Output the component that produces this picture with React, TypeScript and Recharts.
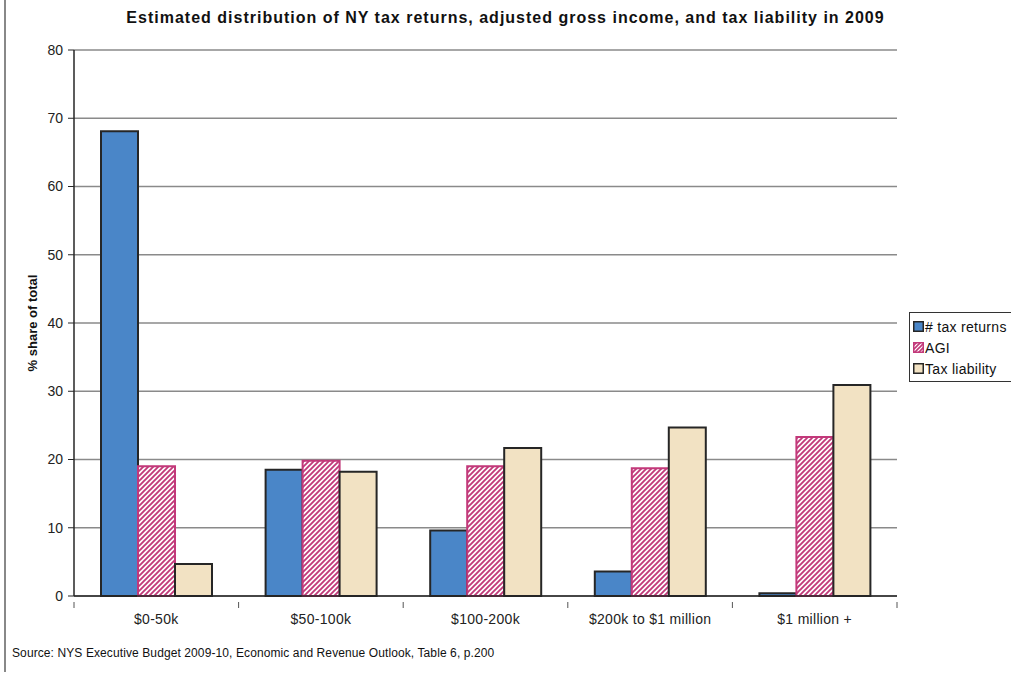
import React from "react";
import {
  BarChart,
  Bar,
  XAxis,
  YAxis,
  CartesianGrid,
} from "recharts";

// income brackets and each group's % share of the state total
const brackets = ["$0-50k", "$50-100k", "$100-200k", "$200k to $1 million", "$1 million +"];
const taxReturns = [68.1, 18.5, 9.6, 3.6, 0.4];
const agi = [19.0, 19.8, 19.0, 18.7, 23.3];
const taxLiability = [4.7, 18.2, 21.7, 24.7, 30.9];
const yTicks = [0, 10, 20, 30, 40, 50, 60, 70, 80];

const data = brackets.map((name, i) => ({
  name,
  returns: taxReturns[i],
  agi: agi[i],
  liability: taxLiability[i],
}));

const FONT = "'Liberation Sans', Arial, sans-serif";
const BLUE = "#4A86C8";
const PINK = "#C2397A";
const BEIGE = "#F2E2C3";
const EDGE = "#262626";

const legendItems = [
  { label: "# tax returns", fill: BLUE, stroke: EDGE },
  { label: "AGI", fill: "url(#agiHatchLegend)", stroke: PINK },
  { label: "Tax liability", fill: BEIGE, stroke: EDGE },
];

// category label plus tick marks on the band edges, Excel style
const CategoryTick = (props: any) => {
  const { x, y, payload, index, visibleTicksCount } = props;
  const half = payload && payload.offset ? payload.offset : 82.1;
  const last = index === (visibleTicksCount ?? brackets.length) - 1;
  const axisY = y - 12;
  return (
    <g>
      <line x1={x - half} x2={x - half} y1={axisY} y2={axisY + 6} stroke="#555" />
      {last && <line x1={x + half} x2={x + half} y1={axisY} y2={axisY + 6} stroke="#555" />}
      <text
        x={x}
        y={y}
        dy="0.71em"
        textAnchor="middle"
        fontFamily={FONT}
        fontSize={14}
        letterSpacing={0.3}
        fill="#222"
      >
        {payload.value}
      </text>
    </g>
  );
};

const LegendBox = () => (
  <div
    style={{
      position: "absolute",
      left: 909,
      top: 312,
      width: 110,
      border: "1px solid #333",
      background: "#fff",
      padding: "3px 0 2px 3px",
      fontFamily: FONT,
      fontSize: 14,
      letterSpacing: 0.3,
      color: "#111",
    }}
  >
    <svg width={0} height={0} style={{ position: "absolute" }}>
      <defs>
        <pattern id="agiHatchLegend" width="4" height="4" patternUnits="userSpaceOnUse">
          <rect width="4" height="4" fill="#fff" />
          <path d="M-1,1 l2,-2 M0,4 l4,-4 M3,5 l2,-2" stroke={PINK} strokeWidth={1.6} />
        </pattern>
      </defs>
    </svg>
    {legendItems.map((it) => (
      <div key={it.label} style={{ display: "flex", alignItems: "center", height: 21 }}>
        <svg width={11} height={11} style={{ marginRight: 1 }}>
          <rect x={0.75} y={0.75} width={9.5} height={9.5} fill={it.fill} stroke={it.stroke} strokeWidth={1.5} />
        </svg>
        <span>{it.label}</span>
      </div>
    ))}
  </div>
);

export default function App() {
  return (
    <div style={{ position: "absolute", left: 0, top: 0, width: 1011, height: 675, background: "#fff", overflow: "hidden" }}>
      {/* outer chart frame, only the left edge is visible */}
      <div style={{ position: "absolute", left: 4, top: 0, width: 1.5, height: 672, background: "#888" }} />
      <div
        style={{
          position: "absolute",
          left: 0,
          width: 1011,
          top: 9,
          textAlign: "center",
          fontFamily: FONT,
          fontWeight: "bold",
          fontSize: 16,
          letterSpacing: 1,
          color: "#111",
        }}
      >
        Estimated distribution of NY tax returns, adjusted gross income, and tax liability in 2009
      </div>
      <div
        style={{
          position: "absolute",
          left: 12,
          top: 646,
          fontFamily: FONT,
          fontSize: 12,
          letterSpacing: 0.1,
          color: "#111",
        }}
      >
        Source: NYS Executive Budget 2009-10, Economic and Revenue Outlook, Table 6, p.200
      </div>
      <BarChart
        width={1011}
        height={675}
        data={data}
        margin={{ top: 50, right: 114, bottom: 49, left: 14 }}
        barCategoryGap={27}
        barGap={0}
        style={{ position: "absolute", left: 0, top: 0 }}
      >
        <defs>
          <pattern id="agiHatch" width="5" height="5" patternUnits="userSpaceOnUse">
            <rect width="5" height="5" fill="#fff" />
            <path d="M-1,1 l2,-2 M0,5 l5,-5 M4,6 l2,-2" stroke={PINK} strokeWidth={1.9} />
          </pattern>
        </defs>
        <CartesianGrid vertical={false} stroke="#8a8a8a" strokeWidth={1.3} />
        <XAxis
          dataKey="name"
          tickLine={false}
          axisLine={{ stroke: EDGE, strokeWidth: 1.5 }}
          tick={<CategoryTick />}
          interval={0}
          tickMargin={12}
          height={30}
        />
        <YAxis
          yAxisId={0}
          domain={[0, 80]}
          ticks={yTicks}
          interval={0}
          width={60}
          axisLine={{ stroke: EDGE, strokeWidth: 1.5 }}
          tickLine={{ stroke: EDGE }}
          tickSize={6}
          tickMargin={5}
          tick={{ fontFamily: FONT, fontSize: 14, fill: "#222" }}
          label={{
            value: "% share of total",
            angle: -90,
            position: "insideLeft",
            offset: 18,
            style: { fontFamily: FONT, fontSize: 13, fontWeight: "bold", fill: "#111", textAnchor: "middle" },
          }}
        />
        {/* right edge of the plot area */}
        <YAxis
          yAxisId="right"
          orientation="right"
          domain={[0, 80]}
          width={0}
          tick={false}
          tickLine={false}
          axisLine={{ stroke: "#8a8a8a", strokeWidth: 1.3 }}
        />
        <Bar dataKey="returns" name="# tax returns" fill={BLUE} stroke={EDGE} strokeWidth={2} isAnimationActive={false} />
        <Bar dataKey="agi" name="AGI" fill="url(#agiHatch)" stroke={PINK} strokeWidth={2} isAnimationActive={false} />
        <Bar dataKey="liability" name="Tax liability" fill={BEIGE} stroke={EDGE} strokeWidth={2} isAnimationActive={false} />
      </BarChart>
      <LegendBox />
    </div>
  );
}
